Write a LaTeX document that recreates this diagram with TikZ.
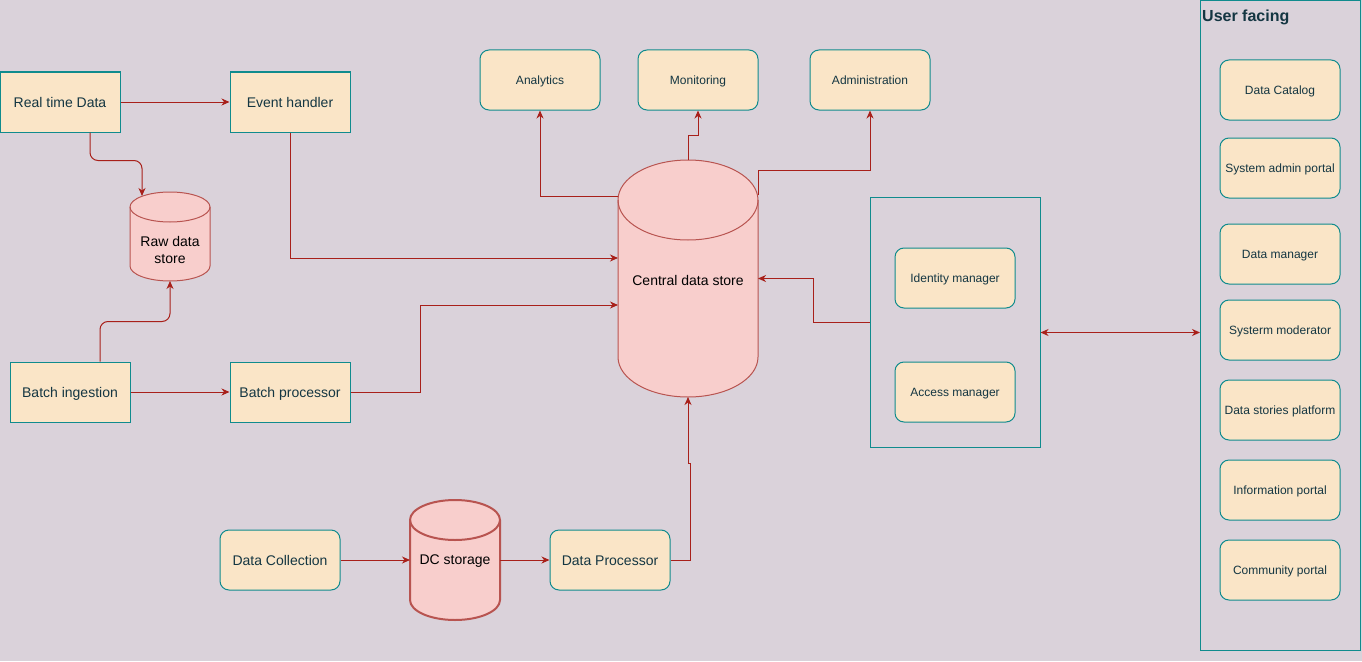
\documentclass[tikz,border=0pt]{standalone}
\usepackage{fontspec}
\setmainfont{Liberation Sans}
\usetikzlibrary{arrows.meta,calc}
\definecolor{bgc}{RGB}{218,210,218}
\definecolor{boxfill}{RGB}{250,229,199}
\definecolor{boxline}{RGB}{15,139,141}
\definecolor{txt}{RGB}{20,54,66}
\definecolor{arrc}{RGB}{168,32,26}
\definecolor{cylfill}{RGB}{248,206,204}
\definecolor{cylline}{RGB}{184,84,80}
\tikzset{
  box/.style={draw=boxline, fill=boxfill, line width=1pt, minimum width=120pt, minimum height=60pt, inner sep=0pt, text=txt, font=\fontsize{14}{17}\selectfont, text height=10pt, text depth=0pt},
  rboxbig/.style={box, rounded corners=9pt},
  rbox/.style={box, rounded corners=9pt, font=\fontsize{12}{14}\selectfont, text height=8.6pt, text depth=0pt},
  cont/.style={draw=boxline, line width=1pt, inner sep=0pt},
  cylbox/.style={inner sep=0pt, outer sep=0pt, draw=none},
  cylshape/.style={fill=cylfill, draw=cylline, line width=1pt},
  cyltext/.style={text=black, font=\fontsize{14}{17}\selectfont, align=center},
  tip/.tip={Stealth[length=8pt,width=7pt,inset=2.5pt]},
  arr/.style={draw=arrc, line width=1pt, -tip},
  darr/.style={draw=arrc, line width=1pt, tip-tip},
}
\newcommand\mycyl[7]{%
  \node[cylbox, minimum width=#4pt, minimum height=#5pt] (#1) at (#2,-#3) {};
  \filldraw[cylshape,#7] ({#2-#4/2},{-#3+#5/2-#6}) -- ({#2-#4/2},{-#3-#5/2+#6})
     arc[start angle=180,end angle=360,x radius=#4/2,y radius=#6]
     -- ({#2+#4/2},{-#3+#5/2-#6})
     arc[start angle=0,end angle=180,x radius=#4/2,y radius=#6] -- cycle;
  \draw[cylshape,fill=none,#7] ({#2-#4/2},{-#3+#5/2-#6}) arc[start angle=180,end angle=360,x radius=#4/2,y radius=#6];
}
\begin{document}
\begin{tikzpicture}[x=1pt,y=1pt]
\fill[bgc] (0,0) rectangle (1362,-661);
\useasboundingbox (0,0) rectangle (1362,-661);

% containers
\node[cont, minimum width=170pt, minimum height=250pt] (sec) at (955,-322.5) {};
\node[cont, minimum width=160pt, minimum height=650pt] (uf) at (1280.5,-325.5) {};
\node[anchor=west, text=txt, font=\bfseries\fontsize{16}{18}\selectfont, inner sep=0pt] (uftitle) at (1202,-17.5) {User facing};

% left boxes
\node[box] (rtd) at (60,-102) {Real time Data};
\node[box] (eh) at (290,-102) {Event handler};
\node[box] (bi) at (70,-392) {Batch ingestion};
\node[box] (bp) at (290,-392) {Batch processor};

% top boxes
\node[rbox] (an) at (540,-80) {Analytics};
\node[rbox] (mon) at (698,-80) {Monitoring};
\node[rbox] (adm) at (870,-80) {Administration};

% security
\node[rbox] (idm) at (955,-278) {Identity manager};
\node[rbox] (acm) at (955,-392) {Access manager};

% user facing
\node[rbox] (u1) at (1280,-90) {Data Catalog};
\node[rbox] (u2) at (1280,-168) {System admin portal};
\node[rbox] (u3) at (1280,-254) {Data manager};
\node[rbox] (u4) at (1280,-330) {Systerm moderator};
\node[rbox] (u5) at (1280,-410) {Data stories platform};
\node[rbox] (u6) at (1280,-490) {Information portal};
\node[rbox] (u7) at (1280,-570) {Community portal};

% bottom
\node[rboxbig] (dc) at (280,-560) {Data Collection};
\node[rboxbig] (dp) at (610,-560) {Data Processor};

% cylinders
\mycyl{raw}{170}{236.5}{80}{89}{15}{}
\node[cyltext] (rawtxt) at (170,-249.5) {Raw data\\store};
\mycyl{cds}{688}{278.5}{140}{237}{40}{}
\node[cyltext] (cdstxt) at (688,-280.5) {Central data store};
\mycyl{dcs}{455}{560}{90}{120}{20}{line width=2pt}
\node[cyltext] (dcstxt) at (455,-561.5) {DC storage};

% connectors
\draw[arr] (rtd.east) -- (eh.west);
\draw[arr, rounded corners=8pt] ([xshift=30pt]rtd.south) -- ++(0,-28) -| ([xshift=-28pt,yshift=-4pt]raw.north);
\draw[arr] (eh.south) |- ([yshift=20.5pt]cds.west);
\draw[arr, rounded corners=8pt] ([xshift=30pt]bi.north) -- ++(0,40) -| (raw.south);
\draw[arr] (bi.east) -- (bp.west);
\draw[arr] (bp.east) -- ++(70,0) |- ([yshift=-26.5pt]cds.west);
\draw[arr] ([yshift=82.5pt]cds.west) -| (an.south);
\draw[arr] (cds.north) -- ([yshift=25pt]cds.north) -| (mon.south);
\draw[arr] ([yshift=83.5pt]cds.east) -- ([yshift=108.5pt]cds.east) -| (adm.south);
\draw[arr] (sec.west) -- ++(-56,0) |- (cds.east);
\draw[darr] ([yshift=-10pt]sec.east) -- ([yshift=-7pt]uf.west);
\draw[arr] (dc.east) -- (dcs.west);
\draw[arr] (dcs.east) -- (dp.west);
\draw[arr] (dp.east) -| ([xshift=2pt,yshift=-66pt]cds.south) -| (cds.south);
\end{tikzpicture}
\end{document}
